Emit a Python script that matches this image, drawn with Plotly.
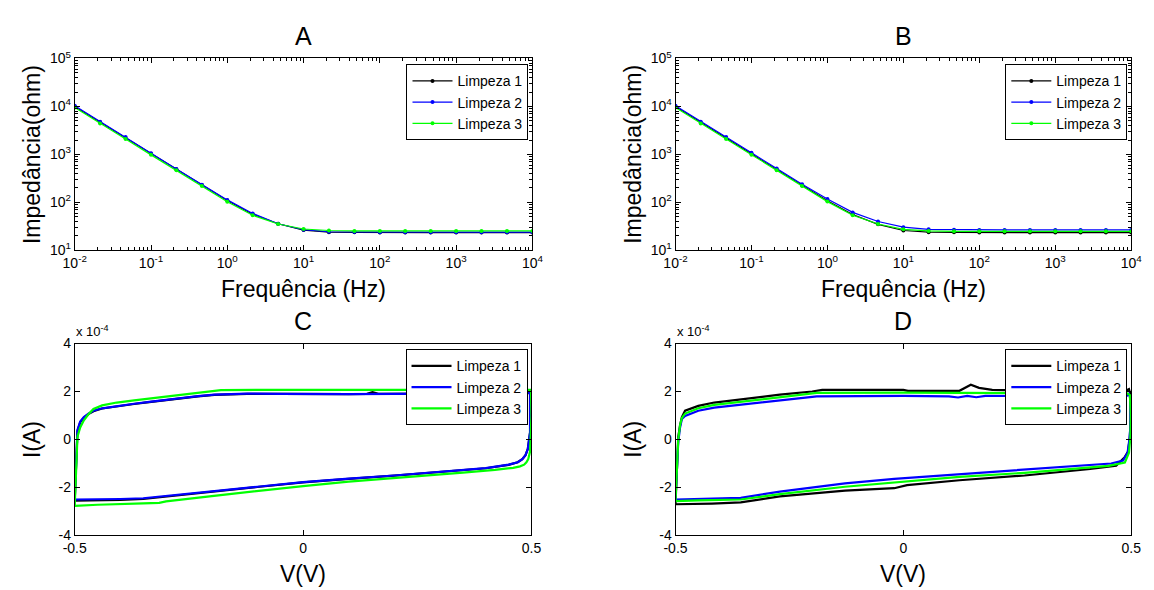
import plotly.graph_objects as go

W, H = 1154, 590

# ---------------- data ----------------
freq = [0.01, 0.0215, 0.0464, 0.1, 0.215, 0.464, 1, 2.15, 4.64, 10,
        21.5, 46.4, 100, 215, 464, 1000, 2150, 4640, 10000]

A_L1 = [10000, 4700, 2200, 1030, 490, 230, 110, 57, 36, 26.5,
        24, 23.8, 23.5, 23.5, 23.5, 23.5, 23.5, 23.5, 23.5]
A_L2 = [10300, 4800, 2300, 1060, 500, 235, 113, 59, 36, 27,
        24.5, 24.2, 24, 24, 24, 24, 24, 24, 24]
A_L3 = [9500, 4400, 2100, 980, 470, 220, 103, 54, 35.5, 28,
        26, 25.5, 25.5, 25.5, 25.5, 25.5, 25.5, 25.5, 25.5]

B_L1 = [10000, 4600, 2200, 1030, 480, 225, 108, 56, 35, 26,
        24, 23.8, 23.5, 23.5, 23.5, 23.5, 23.5, 23.5, 23.5]
B_L2 = [10300, 4800, 2300, 1080, 510, 240, 118, 62, 40, 30.5,
        27.5, 27, 26.8, 26.8, 26.8, 26.8, 26.8, 26.8, 26.8]
B_L3 = [9500, 4400, 2100, 990, 470, 220, 104, 54, 35.5, 27.5,
        25.5, 25, 25, 25, 25, 25, 25, 25, 25]

# CV curves (current in units of 1e-4 A)
C_L1_V = [-0.5, -0.499, -0.497, -0.494, -0.488, -0.48, -0.47, -0.459, -0.44, -0.408, -0.37,
          -0.337, -0.3, -0.265, -0.23, -0.194, -0.16, -0.122, -0.05, 0.0, 0.1, 0.14, 0.152,
          0.165, 0.2, 0.3, 0.4, 0.46, 0.493, 0.497, 0.497, 0.495, 0.492, 0.487, 0.48, 0.47,
          0.45, 0.4, 0.3, 0.2, 0.1, 0.0, -0.1, -0.2, -0.3, -0.35, -0.4, -0.45, -0.5]
C_L1_I = [-2.55, -2.0, -0.9, 0.35, 0.72, 0.9, 1.06, 1.18, 1.29, 1.39, 1.48,
          1.56, 1.65, 1.73, 1.8, 1.86, 1.89, 1.9, 1.9, 1.89, 1.89, 1.9, 1.97,
          1.9, 1.9, 1.9, 1.9, 1.92, 1.95, 1.9, 0.3, -0.1, -0.4, -0.65, -0.82, -0.95,
          -1.06, -1.2, -1.37, -1.51, -1.64, -1.79, -1.98, -2.18, -2.4, -2.48, -2.52, -2.54, -2.55]

C_L2_V = [-0.5, -0.499, -0.497, -0.494, -0.488, -0.48, -0.47, -0.459, -0.44, -0.408, -0.37,
          -0.337, -0.3, -0.265, -0.23, -0.194, -0.16, -0.122, -0.05, 0.0, 0.1, 0.2, 0.3,
          0.4, 0.46, 0.493, 0.497, 0.497, 0.495, 0.492, 0.487, 0.48, 0.47, 0.45, 0.4,
          0.3, 0.2, 0.1, 0.0, -0.1, -0.2, -0.3, -0.35, -0.4, -0.45, -0.5]
C_L2_I = [-2.5, -2.0, -0.9, 0.4, 0.75, 0.93, 1.08, 1.2, 1.3, 1.4, 1.49,
          1.57, 1.66, 1.74, 1.81, 1.87, 1.89, 1.91, 1.9, 1.89, 1.89, 1.9, 1.9,
          1.9, 1.92, 1.95, 1.9, 0.3, -0.1, -0.4, -0.65, -0.82, -0.95, -1.05, -1.19,
          -1.36, -1.5, -1.63, -1.78, -1.97, -2.17, -2.38, -2.45, -2.48, -2.5, -2.5]

C_L3_V = [-0.5, -0.499, -0.497, -0.494, -0.488, -0.48, -0.47, -0.459, -0.44, -0.408, -0.37,
          -0.337, -0.3, -0.265, -0.22, -0.18, -0.1, 0.0, 0.1, 0.2, 0.3, 0.4, 0.47,
          0.499, 0.5, 0.499, 0.497, 0.493, 0.489, 0.484, 0.475, 0.46, 0.42, 0.35, 0.3,
          0.2, 0.1, 0.0, -0.1, -0.2, -0.3, -0.315, -0.35, -0.408, -0.45, -0.5]
C_L3_I = [-2.77, -2.2, -0.8, 0.12, 0.5, 0.8, 1.05, 1.27, 1.42, 1.54, 1.63,
          1.71, 1.79, 1.87, 1.97, 2.06, 2.07, 2.07, 2.07, 2.07, 2.07, 2.07, 2.07,
          2.07, 1.0, 0.1, -0.5, -0.82, -0.95, -1.05, -1.12, -1.18, -1.27, -1.38, -1.45,
          -1.6, -1.76, -1.94, -2.14, -2.36, -2.58, -2.64, -2.66, -2.69, -2.72, -2.77]

D_L1_V = [-0.5, -0.499, -0.497, -0.494, -0.49, -0.486, -0.479, -0.45, -0.415, -0.343,
          -0.271, -0.2, -0.178, 0.0, 0.01, 0.123, 0.135, 0.148, 0.166, 0.195, 0.3, 0.45,
          0.49, 0.495, 0.498, 0.499, 0.497, 0.493, 0.485, 0.467, 0.41, 0.266, 0.123,
          0.008, -0.02, -0.128, -0.271, -0.357, -0.42, -0.5]
D_L1_I = [-2.7, -2.2, -1.0, 0.1, 0.6, 0.93, 1.2, 1.4, 1.54, 1.71,
          1.87, 2.0, 2.07, 2.07, 2.03, 2.03, 2.15, 2.28, 2.15, 2.07, 2.02, 2.0,
          2.05, 2.1, 1.9, 1.0, 0.1, -0.5, -0.75, -1.09, -1.23, -1.5, -1.7,
          -1.9, -2.03, -2.13, -2.37, -2.62, -2.67, -2.7]

D_L2_V = [-0.5, -0.499, -0.497, -0.494, -0.49, -0.486, -0.479, -0.45, -0.415, -0.343,
          -0.271, -0.19, 0.0, 0.1, 0.12, 0.14, 0.16, 0.18, 0.35, 0.49, 0.495, 0.498,
          0.498, 0.496, 0.492, 0.482, 0.456, 0.41, 0.266, 0.123, -0.02, -0.128, -0.271,
          -0.357, -0.45, -0.5]
D_L2_I = [-2.5, -2.0, -1.0, -0.1, 0.5, 0.85, 0.98, 1.2, 1.33, 1.49,
          1.63, 1.8, 1.82, 1.8, 1.75, 1.82, 1.76, 1.82, 1.8, 1.82, 1.9, 1.7,
          0.5, 0.0, -0.55, -0.88, -1.0, -1.06, -1.25, -1.43, -1.64, -1.83, -2.17,
          -2.43, -2.48, -2.5]

D_L3_V = [-0.5, -0.499, -0.497, -0.494, -0.49, -0.486, -0.479, -0.45, -0.415, -0.343,
          -0.271, -0.19, 0.0, 0.2, 0.3, 0.49, 0.497, 0.499, 0.498, 0.495, 0.486, 0.45,
          0.41, 0.266, 0.123, 0.0, -0.128, -0.271, -0.357, -0.45, -0.5]
D_L3_I = [-2.57, -2.2, -1.0, 0.0, 0.6, 0.9, 1.08, 1.3, 1.44, 1.6,
          1.76, 1.94, 1.95, 1.92, 1.93, 1.93, 1.85, 1.0, 0.1, -0.55, -0.96, -1.1,
          -1.16, -1.39, -1.56, -1.77, -1.97, -2.28, -2.5, -2.54, -2.57]

names = ["Limpeza 1", "Limpeza 2", "Limpeza 3"]
colors = ["#000000", "#0000ff", "#00ff00"]

log_ticks_x = [0.01, 0.1, 1, 10, 100, 1000, 10000]
log_text_x = ["10<sup>-2</sup>", "10<sup>-1</sup>", "10<sup>0</sup>", "10<sup>1</sup>",
              "10<sup>2</sup>", "10<sup>3</sup>", "10<sup>4</sup>"]
log_ticks_y = [10, 100, 1000, 10000, 100000]
log_text_y = ["10<sup>1</sup>", "10<sup>2</sup>", "10<sup>3</sup>", "10<sup>4</sup>", "10<sup>5</sup>"]
cv_ticks_x = [-0.5, 0, 0.5]
cv_text_x = ["-0.5", "0", "0.5"]
cv_ticks_y = [-4, -2, 0, 2, 4]
cv_text_y = ["-4", "-2", "0", "2", "4"]

# ---------------- layout helpers ----------------
FONT = "Liberation Sans, Arial, Helvetica, sans-serif"


def px_x(x):
    return x / W


def px_y(y):
    return 1 - y / H


def minor_log(lo, hi):
    return [m * 10 ** e for e in range(lo, hi) for m in range(2, 10)]


base_axis = dict(showline=True, linecolor="black", linewidth=1, mirror="allticks",
                 ticks="inside", ticklen=5, tickcolor="black", tickwidth=1,
                 showgrid=False, zeroline=False,
                 tickfont=dict(family=FONT, size=14, color="black"))

fig = go.Figure()

panels = {
    "A": dict(x0=64, x1=531, y0=50, y1=248),
    "B": dict(x0=677, x1=1142, y0=50, y1=248),
    "C": dict(x0=64, x1=530, y0=344, y1=542),
    "D": dict(x0=677, x1=1142, y0=344, y1=542),
}

imp_data = [(A_L1, A_L2, A_L3), (B_L1, B_L2, B_L3)]
cv_data = [((C_L1_V, C_L1_I), (C_L2_V, C_L2_I), (C_L3_V, C_L3_I)),
           ((D_L1_V, D_L1_I), (D_L2_V, D_L2_I), (D_L3_V, D_L3_I))]

layout = dict(width=W, height=H, autosize=False, margin=dict(l=0, r=0, t=0, b=0),
              paper_bgcolor="white", plot_bgcolor="white",
              font=dict(family=FONT, color="black"), annotations=[])

keys = ["A", "B", "C", "D"]
for i, key in enumerate(keys):
    p = panels[key]
    n = i + 1
    xa = "xaxis" if n == 1 else f"xaxis{n}"
    ya = "yaxis" if n == 1 else f"yaxis{n}"
    xr = "x" if n == 1 else f"x{n}"
    yr = "y" if n == 1 else f"y{n}"
    lg = "legend" if n == 1 else f"legend{n}"
    xdom = [px_x(p["x0"]), px_x(p["x1"])]
    ydom = [px_y(p["y1"]), px_y(p["y0"])]
    if key in ("A", "B"):
        series = imp_data[i]
        for s, nm, c in zip(series, names, colors):
            fig.add_trace(go.Scatter(x=freq, y=s, name=nm, mode="lines+markers",
                                     line=dict(color=c, width=1.2),
                                     marker=dict(color=c, size=4, symbol="circle"),
                                     xaxis=xr, yaxis=yr, legend=lg))
        layout[xa] = dict(base_axis, type="log", range=[-2, 4], domain=xdom, anchor=yr,
                          tickmode="array", tickvals=log_ticks_x, ticktext=log_text_x,
                          minor=dict(ticks="inside", ticklen=3, tickcolor="black",
                                     tickmode="array", tickvals=minor_log(-2, 4)))
        layout[ya] = dict(base_axis, type="log", range=[1, 5], domain=ydom, anchor=xr,
                          tickmode="array", tickvals=log_ticks_y, ticktext=log_text_y,
                          minor=dict(ticks="inside", ticklen=3, tickcolor="black",
                                     tickmode="array", tickvals=minor_log(1, 5)))
        xt, yt = "Frequência (Hz)", "Impedância(ohm)"
    else:
        series = cv_data[i - 2]
        for (v, cur), nm, c in zip(series, names, colors):
            fig.add_trace(go.Scatter(x=v, y=cur, name=nm, mode="lines",
                                     line=dict(color=c, width=2.2),
                                     xaxis=xr, yaxis=yr, legend=lg))
        layout[xa] = dict(base_axis, range=[-0.5, 0.5], domain=xdom, anchor=yr,
                          tickmode="array", tickvals=cv_ticks_x, ticktext=cv_text_x)
        layout[ya] = dict(base_axis, range=[-4, 4], domain=ydom, anchor=xr,
                          tickmode="array", tickvals=cv_ticks_y, ticktext=cv_text_y)
        xt, yt = "V(V)", "I(A)"
        layout["annotations"].append(dict(
            text="x 10<sup>-4</sup>", x=px_x(p["x0"] - 1), y=px_y(p["y0"] - 3),
            xref="paper", yref="paper", xanchor="left", yanchor="bottom",
            showarrow=False, font=dict(family=FONT, size=13, color="black")))

    layout[lg] = dict(x=px_x(p["x1"] - 4), y=px_y(p["y0"] + 6), xanchor="right", yanchor="top",
                      bgcolor="white", bordercolor="black", borderwidth=1,
                      font=dict(family=FONT, size=14, color="black"),
                      itemwidth=40, tracegroupgap=0)
    cx = (p["x0"] + p["x1"]) / 2
    layout["annotations"].append(dict(
        text=key, x=px_x(cx), y=px_y(p["y0"] - 23), xref="paper", yref="paper",
        xanchor="center", yanchor="middle", showarrow=False,
        font=dict(family=FONT, size=25, color="black")))
    layout["annotations"].append(dict(
        text=xt, x=px_x(cx), y=px_y(p["y1"] + 40), xref="paper", yref="paper",
        xanchor="center", yanchor="middle", showarrow=False,
        font=dict(family=FONT, size=23, color="black")))
    layout["annotations"].append(dict(
        text=yt, x=px_x(p["x0"] - 43), y=px_y((p["y0"] + p["y1"]) / 2), xref="paper",
        yref="paper", xanchor="center", yanchor="middle", textangle=-90, showarrow=False,
        font=dict(family=FONT, size=23, color="black")))

fig.update_layout(**layout)
fig.write_html("out.html")
